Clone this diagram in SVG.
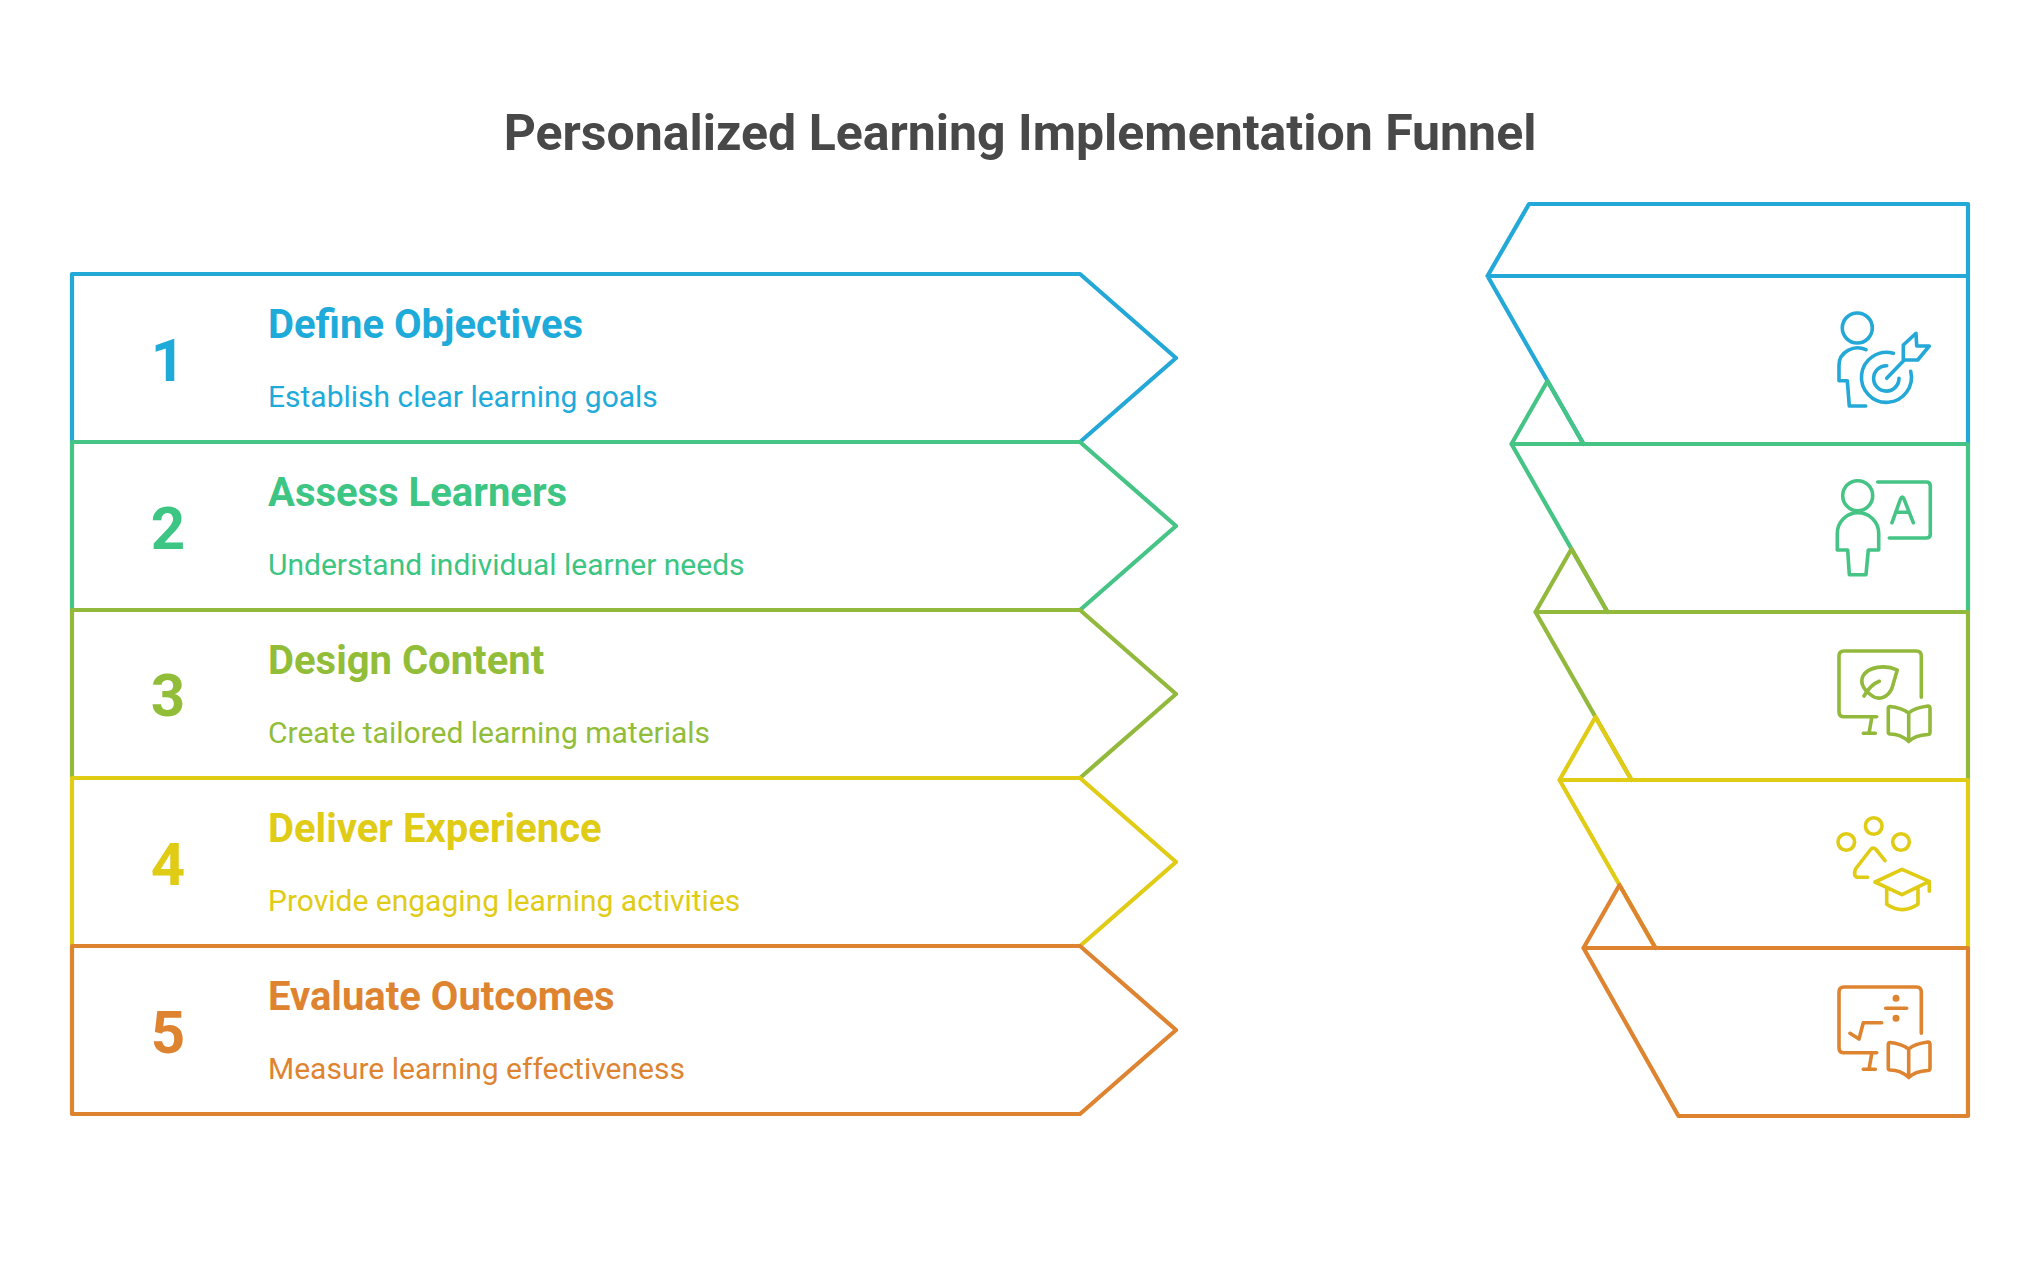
<svg xmlns="http://www.w3.org/2000/svg" width="2040" height="1272" viewBox="0 0 2040 1272">
<style>
text{font-family:Roboto,"Liberation Sans",sans-serif}
.title{font-size:50px;font-weight:700;fill:#484848;text-anchor:middle}
.num{font-size:60px;font-weight:700;text-anchor:middle}
.head{font-size:40px;font-weight:700}
.desc{font-size:30px;font-weight:400}
.s{fill:none;stroke-width:4.2;stroke-linejoin:round;stroke-linecap:round}
.i{fill:none;stroke-width:3.6;stroke-linejoin:round;stroke-linecap:round}
.c1{stroke:#24a8d8}.c2{stroke:#45c486}.c3{stroke:#92b93c}.c4{stroke:#e0cb15}.c5{stroke:#de8431}
.t1{fill:#1eabda}.t2{fill:#3cc583}.t3{fill:#92bd39}.t4{fill:#e0cb15}.t5{fill:#de8431}
</style>
<defs>
<g id="book"><path d="M1908.7 713C1903 709 1896 707 1890 706.5Q1888.3 706.5 1888.3 708.5V732Q1888.3 734 1890 734C1897 734 1904 737 1908.7 741.5C1913 737 1920 735 1928 734.5Q1930 734.5 1930 732V708.5Q1930 706 1928 706C1920 707 1913 709 1908.7 713V741"/></g>
<g id="monitor"><path d="M1921.3 697.3V656Q1921.3 651 1916.3 651H1844Q1839 651 1839 656V711.7Q1839 716.7 1844 716.7H1876.7M1871.7 718L1869 733.3M1863.3 733.3H1875.3"/></g>
</defs>
<text class="title" x="1020" y="150">Personalized Learning Implementation Funnel</text>
<g id="connectors">
<path class="s c1" d="M1487.5 276L1529 204H1968V276ZM1487.5 276L1583.5 444M1968 276V444"/>
<path class="s c2" d="M1583.5 444L1547.5 381L1511.5 444H1968V612M1511.5 444L1607.5 612"/>
<path class="s c3" d="M1607.5 612L1571.5 549L1535.5 612H1968V780M1535.5 612L1631.5 780"/>
<path class="s c4" d="M1631.5 780L1595.5 717L1559.5 780H1968V948M1559.5 780L1655.5 948"/>
<path class="s c5" d="M1655.5 948L1619.5 885L1583.5 948H1968V1116H1678.5L1583.5 948"/>
</g>
<g id="node1">
<path class="s c1" d="M72 274H1080L1176 358L1080 442H72Z"/>
<text class="num t1" x="168" y="381">1</text>
<text class="head t1" x="268" y="338.3">Define Objectives</text>
<text class="desc t1" x="268" y="407">Establish clear learning goals</text>
<g class="i c1"><circle cx="1857.3" cy="328" r="15"/><path d="M1866 349.7C1854 344 1839 352 1839 365V380.7H1847.3L1849.3 406H1865.7"/><path d="M1893.3 353.3A25 25 0 1 0 1910.7 371.3"/><path d="M1886.7 365.7A12.7 12.7 0 1 0 1899 378.3"/><path d="M1886.7 378.3L1903.3 361V345L1916 333.3L1916.7 346H1929.3L1917.7 360H1903.3"/></g>
</g>
<g id="node2">
<path class="s c2" d="M72 442H1080L1176 526L1080 610H72Z"/>
<text class="num t2" x="168" y="548.5">2</text>
<text class="head t2" x="268" y="506.3">Assess Learners</text>
<text class="desc t2" x="268" y="575">Understand individual learner needs</text>
<g class="i c2"><circle cx="1857.7" cy="495.7" r="15"/><path d="M1837.3 550V533.3A20.7 20.7 0 0 1 1878.7 533.3V550H1868.3L1866 574.7H1849.3L1847.7 550Z"/><path d="M1877.7 482H1926.3Q1930.3 482 1930.3 486V534Q1930.3 538 1926.3 538H1889.3"/><path d="M1892 522.7L1900.5 499Q1902.3 495 1904 499L1913.3 522.7M1896 512.3H1909.3"/></g>
</g>
<g id="node3">
<path class="s c3" d="M72 610H1080L1176 694L1080 778H72Z"/>
<text class="num t3" x="168" y="716">3</text>
<text class="head t3" x="268" y="674.3">Design Content</text>
<text class="desc t3" x="268" y="743">Create tailored learning materials</text>
<g class="i c3"><use href="#monitor"/><use href="#book"/><path d="M1897.3 670C1885 664 1868 667 1863 676C1859 684 1866 692 1871 695C1878 701 1888 698 1892 688Z"/><path d="M1879.3 681.3C1872 684 1868 689 1864 696"/></g>
</g>
<g id="node4">
<path class="s c4" d="M72 778H1080L1176 862L1080 946H72Z"/>
<text class="num t4" x="168" y="884.5">4</text>
<text class="head t4" x="268" y="842.3">Deliver Experience</text>
<text class="desc t4" x="268" y="911">Provide engaging learning activities</text>
<g class="i c4"><circle cx="1873.7" cy="826" r="8.3"/><circle cx="1846.3" cy="842" r="8.3"/><circle cx="1901" cy="842" r="8.3"/><path d="M1885 860.7L1876 849.5Q1873.3 846.5 1870.6 849.5L1855.5 869Q1852.5 877.3 1859 877.3H1867.7"/><path d="M1902 869.3L1929.3 881.3L1902 894.7L1875 882ZM1929.3 881.3V891.3M1886.7 888.3V904.3Q1902 915 1918 904.3V888.3"/></g>
</g>
<g id="node5">
<path class="s c5" d="M72 946H1080L1176 1030L1080 1114H72Z"/>
<text class="num t5" x="168" y="1052.5">5</text>
<text class="head t5" x="268" y="1010.3">Evaluate Outcomes</text>
<text class="desc t5" x="268" y="1079">Measure learning effectiveness</text>
<g class="i c5"><use href="#monitor" y="336"/><use href="#book" y="336"/><path d="M1885.7 1008.3H1906.7M1850 1033.3L1859 1039L1863.3 1022.7H1881.7"/><circle cx="1896" cy="998.3" r="1.7" class="t5"/><circle cx="1896" cy="1018.3" r="1.7" class="t5"/></g>
</g>
</svg>
